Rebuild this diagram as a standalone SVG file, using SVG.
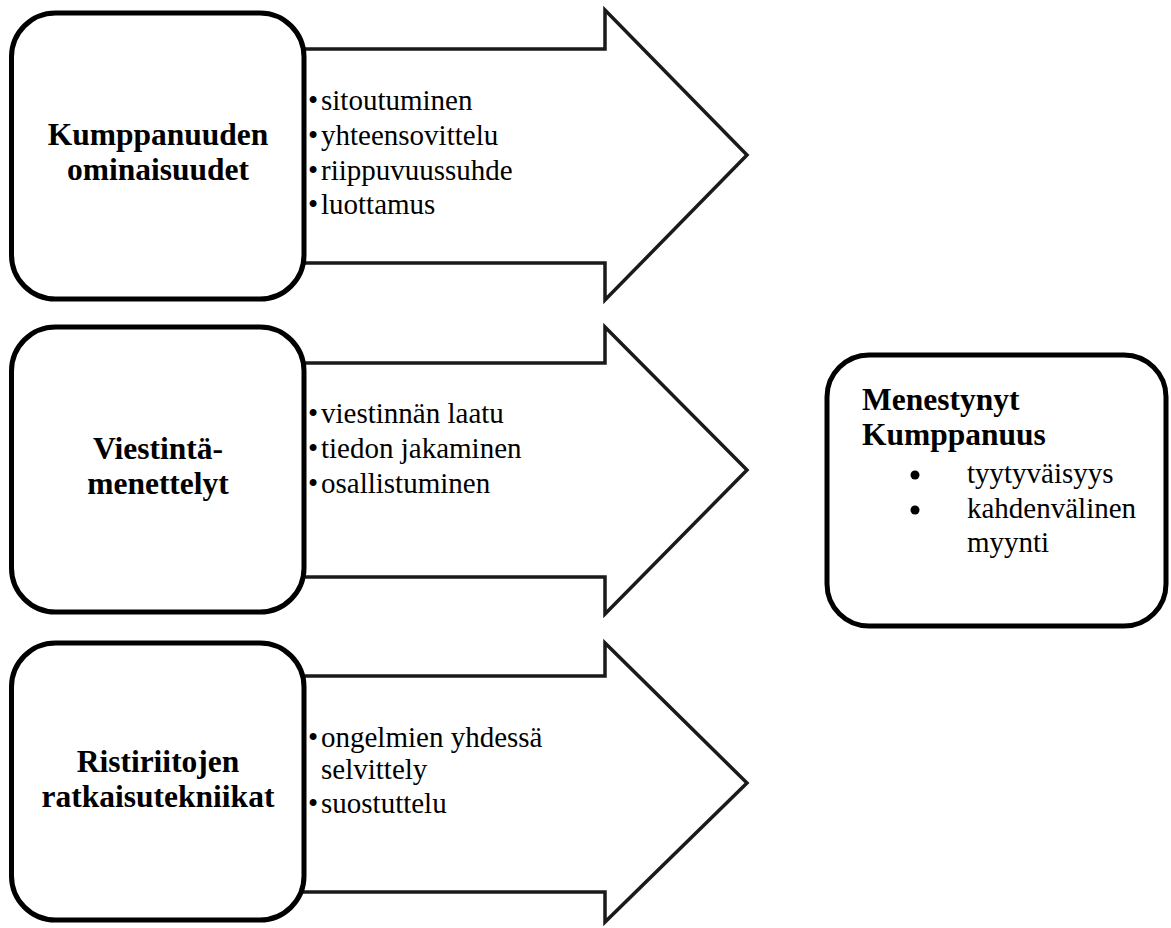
<svg xmlns="http://www.w3.org/2000/svg" width="1171" height="928" viewBox="0 0 1171 928">
<style>
.arrow{fill:#fff;stroke:#1a1a1a;stroke-width:3.5;stroke-linejoin:miter}
.box{fill:#fff;stroke:#000;stroke-width:5}
.title{font-family:"Liberation Serif","Times New Roman",serif;font-weight:bold;font-size:31.5px;fill:#000}
.item{font-family:"Liberation Serif","Times New Roman",serif;font-size:29px;fill:#000}
.dot{font-family:"Liberation Serif","Times New Roman",serif;font-size:29px;fill:#000}
.bullet{fill:#000}
</style>
<rect width="1171" height="928" fill="#fff"/>
<g id="connectors">
  <path class="arrow" d="M300,49 H605 V10 L747,155 L605,300 V263 H300 Z"/>
  <path class="arrow" d="M300,363 H605 V327 L747,470 L605,614 V577 H300 Z"/>
  <path class="arrow" d="M300,676 H605 V643 L747,783 L605,922 V892 H300 Z"/>
</g>
<g id="node-kumppanuuden">
  <rect class="box" x="11.5" y="13" width="292.5" height="286" rx="44"/>
  <text class="title" x="158" y="145" text-anchor="middle">Kumppanuuden</text>
  <text class="title" x="158" y="180" text-anchor="middle">ominaisuudet</text>
</g>
<g id="list-kumppanuuden">
  <text class="dot" x="308" y="110">•</text><text class="item" x="321" y="110">sitoutuminen</text>
  <text class="dot" x="308" y="145">•</text><text class="item" x="321" y="145">yhteensovittelu</text>
  <text class="dot" x="308" y="180">•</text><text class="item" x="321" y="180">riippuvuussuhde</text>
  <text class="dot" x="308" y="214">•</text><text class="item" x="321" y="214">luottamus</text>
</g>
<g id="node-viestinta">
  <rect class="box" x="11.5" y="327" width="292.5" height="285" rx="44"/>
  <text class="title" x="158" y="459" text-anchor="middle">Viestintä-</text>
  <text class="title" x="158" y="494" text-anchor="middle">menettelyt</text>
</g>
<g id="list-viestinta">
  <text class="dot" x="308" y="423">•</text><text class="item" x="321" y="423">viestinnän laatu</text>
  <text class="dot" x="308" y="458">•</text><text class="item" x="321" y="458">tiedon jakaminen</text>
  <text class="dot" x="308" y="493">•</text><text class="item" x="321" y="493">osallistuminen</text>
</g>
<g id="node-ristiriitojen">
  <rect class="box" x="11.5" y="643" width="292.5" height="277" rx="44"/>
  <text class="title" x="158" y="772" text-anchor="middle">Ristiriitojen</text>
  <text class="title" x="158" y="807" text-anchor="middle">ratkaisutekniikat</text>
</g>
<g id="list-ristiriitojen">
  <text class="dot" x="308" y="747">•</text><text class="item" x="321" y="747">ongelmien yhdessä</text>
  <text class="item" x="321" y="779">selvittely</text>
  <text class="dot" x="308" y="813">•</text><text class="item" x="321" y="813">suostuttelu</text>
</g>
<g id="node-menestynyt">
  <rect class="box" x="827" y="355" width="339" height="271" rx="42"/>
  <text class="title" x="862" y="410">Menestynyt</text>
  <text class="title" x="862" y="445">Kumppanuus</text>
  <circle class="bullet" cx="915" cy="475" r="4.5"/><text class="item" x="967" y="483">tyytyväisyys</text>
  <circle class="bullet" cx="915" cy="510" r="4.5"/><text class="item" x="967" y="518">kahdenvälinen</text>
  <text class="item" x="967" y="552">myynti</text>
</g>
</svg>
